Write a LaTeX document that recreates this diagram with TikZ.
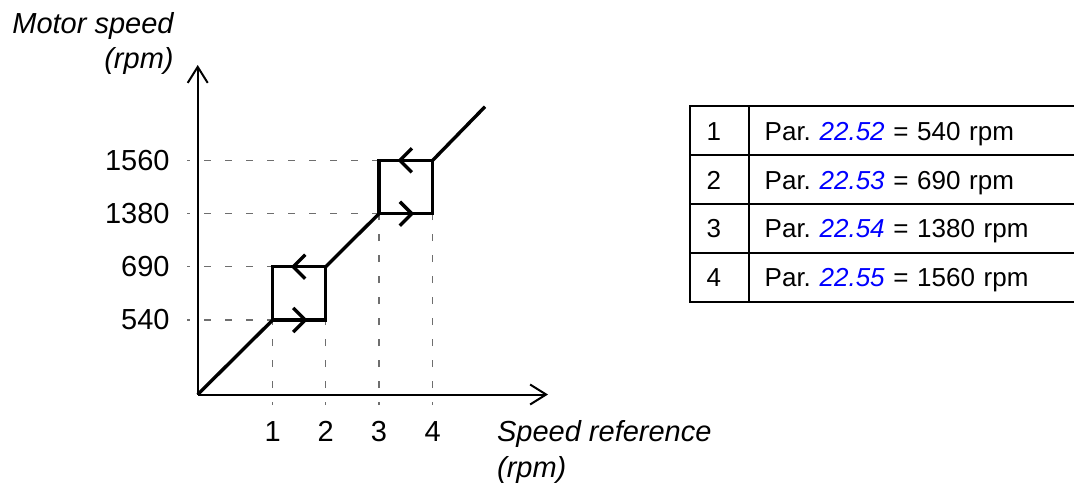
\documentclass[tikz,border=0pt]{standalone}
\usepackage{fontspec}
\setmainfont{Liberation Sans}
\usetikzlibrary{matrix,arrows.meta,decorations.markings}
\definecolor{parblue}{RGB}{0,0,255}
\definecolor{guidegray}{RGB}{110,110,110}
\newcommand{\parlink}[1]{{\color{parblue}\itshape #1}}
\newcommand{\axisfont}{\fontsize{14.5}{17.75}\selectfont}
\newcommand{\tabfont}{\fontsize{13}{15.6}\selectfont\frenchspacing}

\begin{document}
\begin{tikzpicture}[x=0.5pt, y=-0.5pt,
  axis/.style={line width=1pt, -{Straight Barb[length=8pt,width=10pt]}},
  curve/.style={line width=1.7pt},
  guide/.style={draw=guidegray, line width=0.6pt, dash pattern=on 3.7pt off 6.8pt, dash phase=2pt},
  midarrow/.style={postaction={decorate, decoration={markings,
    mark=at position 0.5 with {\draw[line width=1.7pt] (-3pt,-6pt) -- (3pt,0pt) -- (-3pt,6pt);}}}}]
  \useasboundingbox (0,0) rectangle (1074,482);
  \clip (0,0) rectangle (1074,482);
  % axes
  \coordinate (O) at (197.7,394.5);
  \coordinate (ytop) at (197.7,65);
  \coordinate (xend) at (548,394.5);
  \coordinate (yl) at (187,0);
  \coordinate (xl) at (0,405);
  \coordinate (vl) at (170,0);
  \coordinate (tl) at (0,441.7);
  % hysteresis corners
  \coordinate (a1) at (272.7,320);   \coordinate (b1) at (325.7,320);
  \coordinate (c1) at (325.7,266.7); \coordinate (d1) at (272.7,266.7);
  \coordinate (a2) at (379,213.7);   \coordinate (b2) at (432.7,213.7);
  \coordinate (c2) at (432.7,160.3); \coordinate (d2) at (379,160.3);
  \coordinate (E) at (485,106.7);

  \foreach \p in {a1,d1,a2,d2} \draw[guide] (\p -| yl) -- (\p);
  \foreach \p in {a1,b1,a2,b2} \draw[guide] (\p |- xl) -- (\p);

  \draw[axis] (O) -- (ytop);
  \draw[axis] (O) -- (xend);

  \draw[curve] (O) -- (a1) (c1) -- (a2) (c2) -- (E);
  \foreach \i in {1,2} {
    \draw[curve] (a\i) rectangle (c\i);
    \path[midarrow] (a\i) -- (b\i);
    \path[midarrow] (c\i) -- (d\i);
  }

  \node[font=\axisfont\itshape, align=right, anchor=north east, inner sep=0pt] (ylabel) at (174,12) {Motor speed\\(rpm)};
  \node[font=\axisfont\itshape, align=left, anchor=north west, inner sep=0pt] (xlabel) at (496.7,420.5) {Speed reference\\(rpm)};
  \foreach \p/\v in {a1/540,d1/690,a2/1380,d2/1560}
    \node[font=\axisfont, anchor=east, inner sep=0pt] (val\v) at (\p -| vl) {\v};
  \foreach \p/\n in {a1/1,b1/2,a2/3,b2/4}
    \node[font=\axisfont, anchor=base, inner sep=0pt] (tick\n) at (\p |- tl) {\n};

  \matrix (tbl) [matrix of nodes, anchor=north west, inner sep=0pt, row sep=-1pt, column sep=-1pt,
    nodes={draw, line width=1pt, minimum height=24.4pt, align=left, font=\tabfont, text height=9.4pt, text depth=0pt},
    column 1/.style={nodes={text width=12.7pt, inner xsep=8.5pt}},
    column 2/.style={nodes={text width=160pt, inner xsep=7.8pt}}] at (688.3,105)
  {
1 & Par. \parlink{22.52} = 540 rpm \\
2 & Par. \parlink{22.53} = 690 rpm \\
3 & Par. \parlink{22.54} = 1380 rpm \\
4 & Par. \parlink{22.55} = 1560 rpm \\
};
\end{tikzpicture}
\end{document}
